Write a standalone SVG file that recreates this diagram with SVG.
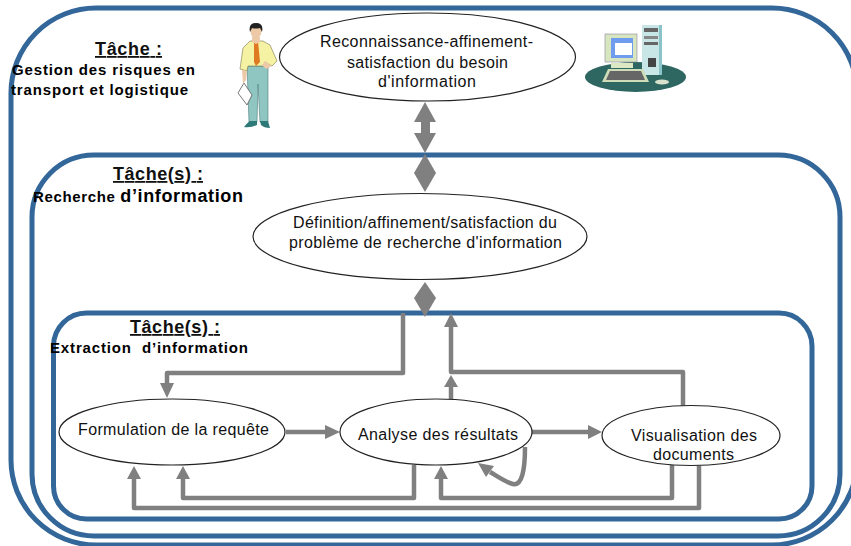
<svg xmlns="http://www.w3.org/2000/svg" width="851" height="546" viewBox="0 0 851 546">
<style>
.frame{fill:none;stroke:#336699;stroke-width:5}
.oval{fill:#fff;stroke:#222;stroke-width:1.2}
.t{font-family:"Liberation Sans",Arial,sans-serif;font-size:16px;fill:#111}
.h{font-family:"Liberation Sans",Arial,sans-serif;font-size:18px;font-weight:bold;fill:#111;text-decoration:underline}
.b{font-family:"Liberation Sans",Arial,sans-serif;font-size:15px;font-weight:bold;fill:#000}
.line{fill:none;stroke:#808080;stroke-width:4.500;stroke-linejoin:round}
.head{fill:#808080}
.soft{filter:url(#soft)}
</style>
<defs><filter id="soft" x="-5%" y="-5%" width="110%" height="110%"><feGaussianBlur stdDeviation="0.5"/></filter></defs>
<rect width="851" height="546" fill="#fff"/>
<g id="frames">
<rect class="frame" x="11" y="8" width="846" height="537" rx="85"/>
<rect class="frame" x="32" y="155" width="808" height="381" rx="62"/>
<rect class="frame" x="53.500" y="313" width="758.500" height="206" rx="33"/>
</g>
<g id="person" class="soft">
<path d="M249 122L247 66H268L268 122H260L258 84L257 122Z" fill="#8fc6c2" stroke="#4a7a78" stroke-width=".6"/>
<path d="M244 127Q248 122 250 121L257 121V125Q250 128 244 127ZM260 121H268L270 128Q264 128 261 125Z" fill="#2f7a78"/>
<path d="M244 83L252 95L247 105L238 93Z" fill="#fff" stroke="#555" stroke-width=".8"/>
<path d="M250 41L263 41L270 45L277 61L272 66L265 62L267 66H248L247 71L240 69L243 48Z" fill="#f6f2a4" stroke="#77744a" stroke-width=".6"/>
<path d="M265 61L272 66L266 69L262 65Z" fill="#edc9a8"/>
<path d="M242 70L247 71L246 80L243 84Z" fill="#edc9a8"/>
<path d="M254 41H258L260 62L256 66L254 62Z" fill="#e07a20"/>
<path d="M252 37H260V42L256 44L252 42Z" fill="#edc9a8"/>
<ellipse cx="256" cy="31" rx="5.500" ry="7.500" fill="#edc9a8"/>
<path d="M250 32Q248 23 256 23Q264 23 262 32L260 28Q255 29 252 28Z" fill="#222"/>
</g>
<g id="computer" class="soft">
<ellipse cx="635.500" cy="77" rx="50.500" ry="15" fill="#2f6662"/>
<rect x="642" y="25" width="20" height="50" fill="#c8e6e6"/>
<rect x="659" y="25" width="3" height="50" fill="#8ac4c8"/>
<rect x="644" y="28" width="14" height="4" fill="#666"/>
<rect x="644" y="36" width="14" height="3" fill="#888"/>
<rect x="644" y="42" width="14" height="3" fill="#666"/>
<rect x="648" y="58" width="8" height="9" fill="#444"/>
<rect x="605" y="34" width="32" height="28" fill="#d8e6c0" stroke="#889" stroke-width=".6"/>
<rect x="611" y="38" width="22" height="20" fill="#6f9cf0"/>
<rect x="615" y="43" width="17" height="12" fill="#fff"/>
<rect x="611" y="63" width="22" height="5" fill="#dce8c4"/>
<path d="M608 69H643L649 82H602Z" fill="#cfdcb8"/>
<path d="M610 71H641L645 80H606Z" fill="#666"/>
<ellipse cx="662" cy="82" rx="7" ry="2.500" fill="#d8e2cc"/>
</g>
<g id="connectors">
<path class="line" d="M403 313V373H167V385"/>
<path class="head" d="M160 383H174L167 398Z"/>
<path class="line" d="M451 399V385"/>
<path class="head" d="M444 387H458L451 375Z"/>
<path class="line" d="M683 406V372H451V325"/>
<path class="head" d="M444 327H458L451 313Z"/>
<path class="line" d="M286 432H328"/>
<path class="head" d="M325 425L340 432L325 439Z"/>
<path class="line" d="M532 432H590"/>
<path class="head" d="M588 425L602 432L588 439Z"/>
<path class="line" d="M414 465V498H183V477"/>
<path class="head" d="M176 479H190L183 466Z"/>
<path class="line" d="M699 465V508H134V477"/>
<path class="head" d="M127 479H141L134 466Z"/>
<path class="line" d="M672 464V498H441V477"/>
<path class="head" d="M434 479H448L441 466Z"/>
<path class="line" d="M525 447C525 470 522 486 513 484C507 483 497 476 490 472"/>
<path class="head" d="M478 463L486 477L494 466Z"/>
<path class="head" d="M425 102L436 122H430V133H436L425 153L414 133H421V122H414Z"/>
<path class="head" d="M425 154L436 173L425 192L414 173Z"/>
<path class="head" d="M425 282L436 298L425 317L414 298Z"/>
</g>
<g id="n1"><ellipse class="oval" cx="427.500" cy="57" rx="148" ry="44"/>
<text class="t" x="320" y="47" textLength="213">Reconnaissance-affinement-</text>
<text class="t" x="347" y="68" textLength="161">satisfaction du besoin</text>
<text class="t" x="378" y="87" textLength="98">d'information</text></g>
<g id="n2"><ellipse class="oval" cx="420" cy="236.500" rx="167" ry="43"/>
<text class="t" x="293" y="228" textLength="264">Définition/affinement/satisfaction du</text>
<text class="t" x="289" y="248" textLength="273">problème de recherche d'information</text></g>
<g id="n3"><ellipse class="oval" cx="172" cy="432" rx="113" ry="33"/>
<text class="t" x="78" y="435" textLength="191">Formulation de la requête</text></g>
<g id="n4"><ellipse class="oval" cx="436" cy="432" rx="96" ry="33"/>
<text class="t" x="358" y="440" textLength="160">Analyse des résultats</text></g>
<g id="n5"><ellipse class="oval" cx="691" cy="435.500" rx="89" ry="30"/>
<text class="t" x="631" y="441" textLength="126">Visualisation des</text>
<text class="t" x="653" y="460" textLength="81">documents</text></g>
<g id="label-tache">
<text class="h" x="95" y="55" textLength="67">Tâche :</text>
<text class="b" x="12" y="75" textLength="183">Gestion des risques en</text>
<text class="b" x="11" y="95" textLength="177">transport et logistique</text>
</g>
<g id="label-recherche">
<text class="h" x="113" y="180" textLength="90">Tâche(s) :</text>
<text class="b" x="33" y="202" textLength="210">Recherche <tspan font-size="18">d’information</tspan></text>
</g>
<g id="label-extraction">
<text class="h" x="130" y="333" textLength="90">Tâche(s) :</text>
<text class="b" x="50" y="353" textLength="198" xml:space="preserve">Extraction  d’information</text>
</g>
</svg>
